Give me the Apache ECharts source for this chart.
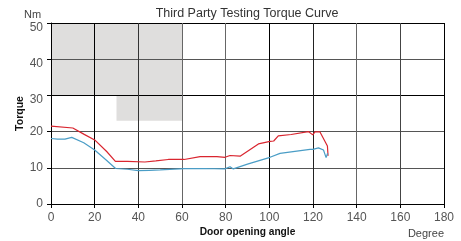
<!DOCTYPE html>
<html>
<head>
<meta charset="utf-8">
<script src="https://cdn.jsdelivr.net/npm/echarts@6/dist/echarts.min.js"></script>
<style>
    html, body { margin: 0; padding: 0; background: #fff; }
    #chart { width: 461px; height: 241px; }
</style>
</head>
<body>
<div id="chart"></div>
<script>
// chart data
var xTicks = [0, 20, 40, 60, 80, 100, 120, 140, 160, 180];
var yTicks = [0, 10, 20, 30, 40, 50];

var redAngle = [0, 10, 15, 20, 25.5, 29.5, 35, 43, 48, 53.7, 61, 68.3, 76, 79.7, 82, 86.6, 95, 100.3, 102, 104.1, 110, 117.9, 119.9, 120.9, 123.2, 126.6, 126.9];
var redTorque = [21.5, 21.0, 19.3, 17.7, 14.5, 11.8, 11.8, 11.6, 11.9, 12.3, 12.3, 13.1, 13.1, 12.9, 13.4, 13.2, 16.6, 17.3, 17.4, 18.8, 19.2, 20.0, 19.1, 19.9, 19.9, 16.0, 13.3];

var blueAngle = [0, 3, 6.4, 9.5, 15, 20, 25, 29.6, 35, 40, 45, 50, 61, 70, 79.7, 82, 83.5, 90, 100.3, 104.9, 110, 118.6, 120, 122.5, 124.8, 126, 126.7];
var blueTorque = [18.1, 17.9, 17.9, 18.4, 16.9, 14.9, 12.3, 9.8, 9.6, 9.2, 9.3, 9.4, 9.75, 9.8, 9.7, 10.3, 9.7, 11.0, 12.9, 14.0, 14.4, 15.1, 15.1, 15.5, 14.9, 12.8, 14.0];

// shaded zones [x1, y1, x2, y2]
var zoneA = [0, 30, 60, 50];
var zoneB = [30, 23, 60, 30];

var FONT = 'Liberation Sans';

function pairs(xs, ys) {
    var out = [];
    for (var i = 0; i < xs.length; i++) {
        out.push([xs[i], ys[i]]);
    }
    return out;
}

function zone(z) {
    return [{coord: [z[0], z[3]]}, {coord: [z[2], z[1]]}];
}

var chart = echarts.init(document.getElementById('chart'));
chart.setOption({
    animation: false,
    textStyle: {fontFamily: FONT},
    title: [
        {text: 'Third Party Testing Torque Curve', left: 247, top: 7, padding: 0, textAlign: 'center',
            textStyle: {fontSize: 12.5, fontWeight: 'normal', color: '#333', fontFamily: FONT}},
        {text: 'Nm', left: 24, top: 9, padding: 0,
            textStyle: {fontSize: 11, fontWeight: 'normal', color: '#444', fontFamily: FONT}},
        {text: 'Degree', left: 444, top: 228, padding: 0, textAlign: 'right',
            textStyle: {fontSize: 11, fontWeight: 'normal', color: '#444', fontFamily: FONT}}
    ],
    grid: {left: 51, right: 17, top: 23, bottom: 37, containLabel: false, outerBoundsMode: 'none'},
    xAxis: {
        type: 'value', min: 0, max: 180, interval: 20,
        name: 'Door opening angle', nameLocation: 'middle', nameGap: 23, nameMoveOverlap: false,
        nameTextStyle: {fontSize: 10.2, fontWeight: 'bold', color: '#111'},
        axisLine: {lineStyle: {color: '#000', width: 1}},
        axisTick: {length: 4, lineStyle: {color: '#000'}},
        axisLabel: {fontSize: 12, color: '#555', margin: 8},
        splitLine: {show: true, lineStyle: {width: 1,
            color: ['#000', '#000', '#333', '#666', '#666', '#000', '#222', '#666', '#444', '#000']}}
    },
    yAxis: {
        type: 'value', min: 0, max: 50, interval: 10,
        name: 'Torque', nameLocation: 'middle', nameGap: 25, nameRotate: 90, nameMoveOverlap: false,
        nameTextStyle: {fontSize: 10.5, fontWeight: 'bold', color: '#111'},
        axisLine: {show: true, lineStyle: {color: '#000', width: 1}},
        axisTick: {show: true, length: 4, lineStyle: {color: '#000'}},
        axisLabel: {
            fontSize: 12, color: '#555', margin: 8,
            formatter: function (v) {
                return v >= 30 ? '{lo|' + v + '}' : '' + v;
            },
            rich: {lo: {fontSize: 12, color: '#555', padding: [9, 0, 0, 0]}}
        },
        splitLine: {show: true, lineStyle: {width: 1,
            color: ['#000', '#555', '#555', '#000', '#555', '#000']}}
    },
    series: [
        {
            type: 'line', data: [], z: -1, silent: true,
            markArea: {
                silent: true, z: -1,
                itemStyle: {color: '#dfdedd'},
                data: [zone(zoneA), zone(zoneB)]
            }
        },
        {
            type: 'line', data: pairs(redAngle, redTorque), showSymbol: false, z: 3,
            lineStyle: {color: '#d9252f', width: 1.2}
        },
        {
            type: 'line', data: pairs(blueAngle, blueTorque), showSymbol: false, z: 3,
            lineStyle: {color: '#4a9dc6', width: 1.2}
        }
    ]
});
</script>
</body>
</html>
